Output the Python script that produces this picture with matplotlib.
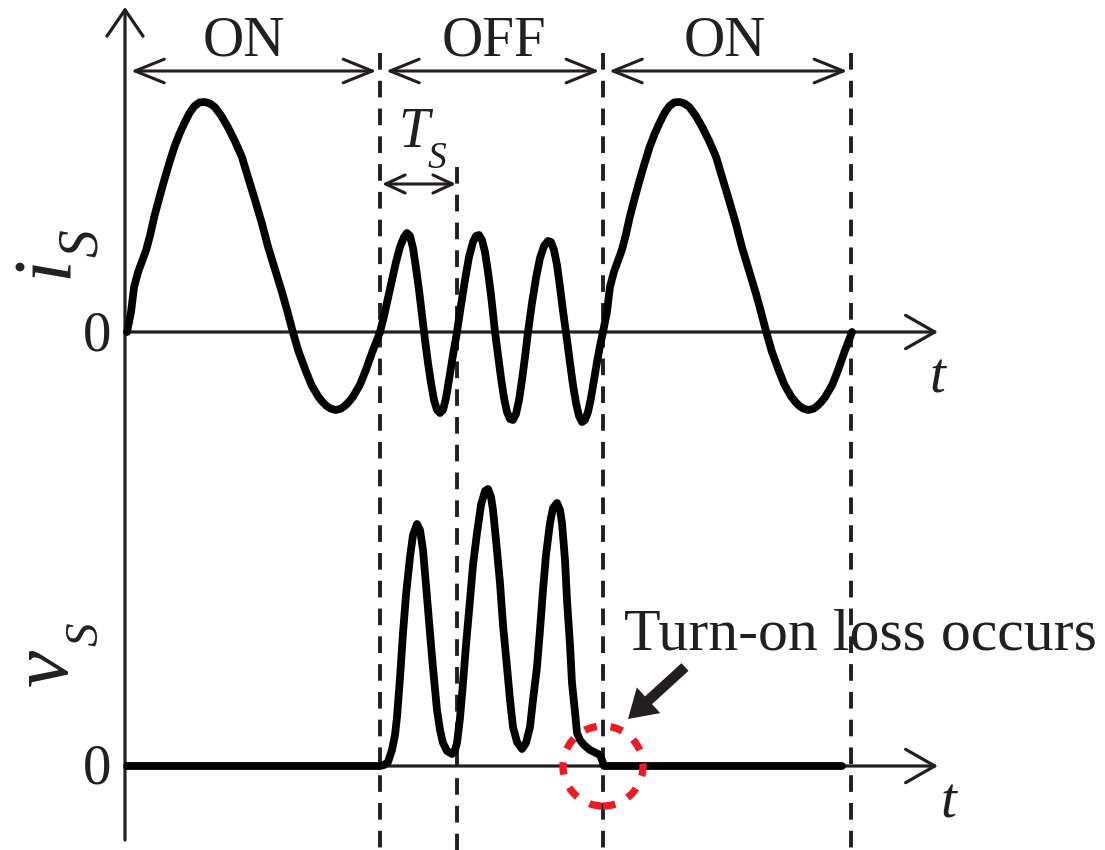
import matplotlib
matplotlib.use("Agg")
import matplotlib.pyplot as plt
import numpy as np
from matplotlib.patches import FancyArrowPatch, Ellipse

plt.rcParams["lines.scale_dashes"] = False

SERIF = "Liberation Serif"
INK = "#231f20"
WAVE = "#000000"
RED = "#ed1c24"

# ---- switching intervals (time in us) ----
phase_names = ["ON", "OFF", "ON"]
phase_edges = [0.0, 25.5, 47.8, 72.6]
ts_end = 33.2                      # one resonant period T_S after turn-off
on_windows = [(0.2, 25.5), (47.8, 72.7)]

# ---- switch current during an ON interval (time from start, current in A) ----
on_t = [0, .4, .7, 1.1, 1.5, 1.9, 2.3, 2.7, 3.2, 3.7, 4.2, 4.7, 5.2, 5.7, 6.2,
        6.7, 7.2, 7.7, 8.2, 8.7, 9.3, 10.0, 10.7, 11.4, 12.0, 12.7, 13.4, 14.0,
        14.7, 15.4, 15.9, 16.4, 17.0, 17.7, 18.3, 19.0, 19.4, 19.8, 20.2, 20.7,
        21.2, 21.6, 22.0, 22.4, 23.1, 23.7, 24.3, 25.1]
on_i = [0, 1.0, 2.25, 3.0, 3.55, 4.1, 4.85, 5.75, 6.7, 7.6, 8.45, 9.25, 9.9,
        10.45, 10.95, 11.3, 11.48, 11.5, 11.43, 11.25, 10.85, 10.25, 9.55, 8.75,
        7.75, 6.6, 5.4, 4.25, 3.1, 1.95, 1.05, 0.1, -0.95, -1.9, -2.65, -3.25,
        -3.5, -3.7, -3.83, -3.9, -3.84, -3.7, -3.5, -3.25, -2.65, -1.9, -1.05,
        0.0]

# ---- switch current during the OFF interval ----
off_t = [25.5, 25.9, 26.3, 26.7, 27.1, 27.5, 27.9, 28.2, 28.5, 28.8,
         29.1, 29.4, 29.7, 30.0, 30.3, 30.6, 30.9, 31.2, 31.5, 31.8,
         32.1, 32.4, 32.8, 33.2, 33.6, 34.0, 34.4, 34.8, 35.1, 35.4,
         35.7, 36.0, 36.3, 36.6, 37.0, 37.3, 37.6, 37.9, 38.2, 38.5,
         38.8, 39.1, 39.4, 39.7, 40.0, 40.3, 40.7, 41.1, 41.5, 41.9,
         42.3, 42.6, 42.9, 43.2, 43.5, 43.8, 44.2, 44.5, 44.8, 45.1,
         45.4, 45.7, 46.0, 46.3, 46.6, 46.9, 47.2, 47.5, 47.8]
off_i = [0, 0.8, 1.7, 2.6, 3.5, 4.25, 4.75, 4.95, 4.8, 4.2,
         3.2, 2.1, 0.85, -0.4, -1.55, -2.55, -3.4, -3.9, -4.05, -3.9,
         -3.3, -2.4, -1.15, 0, 1.35, 2.6, 3.75, 4.5, 4.8, 4.85,
         4.6, 4.0, 3.0, 1.85, 0, -1.15, -2.3, -3.3, -4.0, -4.35,
         -4.4, -4.1, -3.4, -2.4, -1.25, 0, 1.45, 2.7, 3.7, 4.3,
         4.55, 4.5, 4.1, 3.35, 2.25, 1.05, -0.4, -1.55, -2.65, -3.55,
         -4.2, -4.5, -4.4, -4.0, -3.3, -2.4, -1.5, -0.7, 0]

# ---- switch voltage (V) ----
vs_t = [0.2, 25.5, 25.9, 26.3, 26.7, 27.0, 27.2, 27.5, 27.8, 28.1,
        28.5, 28.8, 29.2, 29.5, 29.8, 30.1, 30.5, 30.8, 31.2, 31.5,
        31.8, 32.2, 32.7, 33.0, 33.2, 33.5, 33.8, 34.1, 34.5, 34.8,
        35.2, 35.6, 36.0, 36.3, 36.6, 36.8, 37.1, 37.5, 37.8, 38.2,
        38.5, 38.8, 39.2, 39.7, 40.1, 40.5, 40.8, 41.2, 41.5, 41.8,
        42.1, 42.5, 42.8, 43.2, 43.5, 43.7, 44.0, 44.2, 44.5, 44.7,
        45.0, 45.2, 45.5, 45.9, 46.5, 47.1, 47.5, 47.7, 47.9, 71.7]
vs_v = [0, 0, 0.5, 2, 8, 15.5, 24.5, 44, 66.5, 85.5,
        104.5, 115.5, 121, 118, 108, 90.5, 66.5, 49, 28, 18,
        11.5, 7.5, 6, 8, 11.5, 24, 41.5, 60.5, 83, 100.5,
        116.5, 130.5, 137.5, 138.5, 134.5, 128, 113, 91.5, 70.5, 49.5,
        33, 19.5, 12, 8.5, 11.5, 19.5, 33, 49.5, 68, 88,
        105.5, 121.5, 129, 131.5, 128, 121.5, 103, 83, 60.5, 41.5,
        27, 16.5, 13, 10.5, 8, 6.5, 5.5, 3, 0, 0]

# ---- figure: a decoration layer plus one layer per signal ----
fig = plt.figure(figsize=(11.05, 8.5), dpi=100)
XLIM = (-12.5, 98.0)

ax = fig.add_axes([0, 0, 1, 1])
ax.set_xlim(*XLIM)
ax.set_ylim(850, 0)
ax.axis("off")

ax_i = fig.add_axes([0, 0, 1, 1])
ax_i.set_xlim(*XLIM)
ax_i.set_ylim(-25.9, 16.6)
ax_i.axis("off")
ax_i.patch.set_alpha(0)

ax_v = fig.add_axes([0, 0, 1, 1])
ax_v.set_xlim(*XLIM)
ax_v.set_ylim(-42, 383)
ax_v.axis("off")
ax_v.patch.set_alpha(0)


def arrow(a, p0, p1, style, lw=2.2, color=INK, z=3, **kw):
    a.add_patch(FancyArrowPatch(p0, p1, arrowstyle=style, mutation_scale=1,
                                lw=lw, color=color, shrinkA=0, shrinkB=0,
                                zorder=z, **kw))


# coordinate axes (decoration layer: y in pixel-like units from the top)
arrow(ax, (0, 840), (0, 7), "->,head_length=19,head_width=13", lw=2.3)
arrow(ax, (0, 332), (81.3, 332), "->,head_length=21,head_width=12", lw=2.3)
arrow(ax, (0, 766), (81.3, 766), "->,head_length=21,head_width=12", lw=2.3)

# interval boundaries
dash = (0, (12, 8))
for t in phase_edges[1:]:
    ax.plot([t, t], [53, 850], color=INK, lw=2.8, linestyle=dash, zorder=2)
ax.plot([ts_end, ts_end], [167, 850], color=INK, lw=2.8, linestyle=dash, zorder=2)

# ON / OFF spans
label_x = [11.9, 36.9, 60.0]
gap = 0.6
for k, name in enumerate(phase_names):
    a0, a1 = phase_edges[k], phase_edges[k + 1]
    arrow(ax, (a0 + gap, 71), (a1 - gap * 0.6, 71),
          "<->,head_length=21,head_width=8.5", lw=2.2)
    ax.text(label_x[k], 55, name, fontsize=41, family=SERIF,
            color=INK, ha="center", va="baseline")

# T_S span
arrow(ax, (phase_edges[1] + 0.2, 184), (ts_end - 0.1, 184),
      "<->,head_length=14,head_width=6.5", lw=2.2)
ax.text(27.3, 147, "T", fontsize=40, family=SERIF, style="italic",
        color=INK, ha="left", va="baseline")
ax.text(30.3, 168, "S", fontsize=27, family=SERIF, style="italic",
        color=INK, ha="left", va="baseline")

# signal names (rotated)
ax.text(-5.8, 278, "i", fontsize=59, family=SERIF, style="italic", color=INK,
        rotation=90, rotation_mode="anchor", ha="left", va="baseline")
ax.text(-2.8, 257, "S", fontsize=40, family=SERIF, style="italic", color=INK,
        rotation=90, rotation_mode="anchor", ha="left", va="baseline")
ax.text(-5.8, 686, "v", fontsize=60, family=SERIF, style="italic", color=INK,
        rotation=90, rotation_mode="anchor", ha="left", va="baseline")
ax.text(-2.8, 646, "S", fontsize=34, family=SERIF, style="italic", color=INK,
        rotation=90, rotation_mode="anchor", ha="left", va="baseline")

# zero marks and time labels
for yb in (350, 783):
    ax.text(-1.4, yb, "0", fontsize=41, family=SERIF, color=INK,
            ha="right", va="baseline")
ax.text(81.2, 392, "t", fontsize=41, family=SERIF, style="italic",
        color=INK, ha="center", va="baseline")
ax.text(82.3, 817, "t", fontsize=41, family=SERIF, style="italic",
        color=INK, ha="center", va="baseline")

# ---- switch current ----
wave_kw = dict(color=WAVE, lw=5.6, solid_joinstyle="round",
               solid_capstyle="round", zorder=5)
shape_t = np.array(on_t)
for t0, t1 in on_windows:
    ax_i.plot(t0 + shape_t * (t1 - t0) / shape_t[-1], on_i, **wave_kw)
ax_i.plot(off_t, off_i, **wave_kw)

# ---- switch voltage ----
ax_v.plot(vs_t, vs_v, **wave_kw)

# turn-on loss callout
ax_v.add_patch(Ellipse((phase_edges[2], 0), 8.0, 40, fill=False,
                       edgecolor=RED, lw=5.3, linestyle=(0, (9, 10)), zorder=7))
arrow(ax_v, (56.0, 49.5), (50.3, 23.5),
      "simple,head_length=20,head_width=25,tail_width=7.5",
      lw=0, color=INK, z=7)
ax.text(49.9, 650, "Turn-on loss occurs", fontsize=43, family=SERIF,
        color=INK, ha="left", va="baseline")

fig.savefig("out.png", dpi=100)
